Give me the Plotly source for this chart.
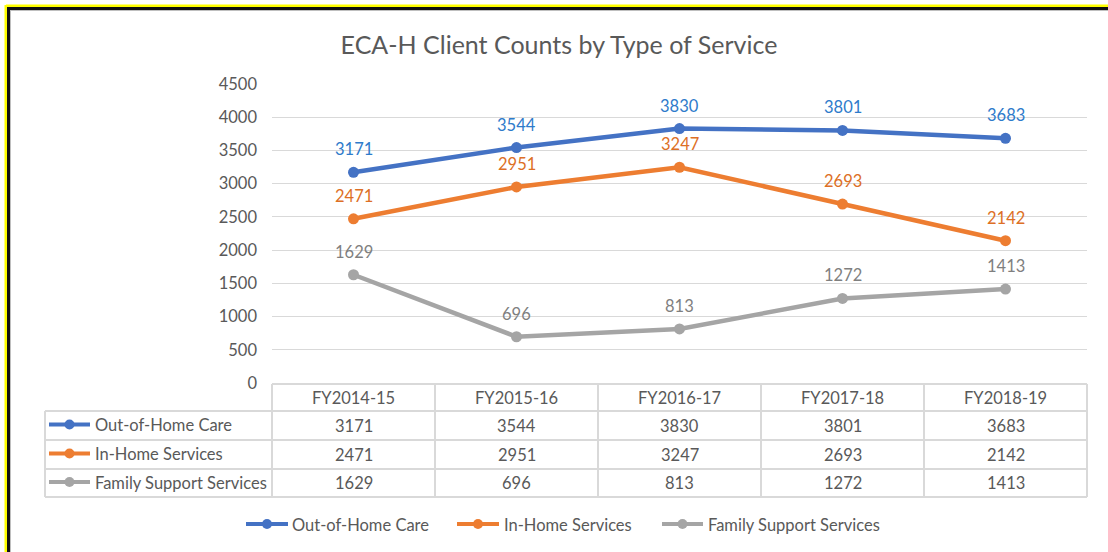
import plotly.graph_objects as go

categories = ["FY2014-15", "FY2015-16", "FY2016-17", "FY2017-18", "FY2018-19"]
out_of_home = [3171, 3544, 3830, 3801, 3683]
in_home = [2471, 2951, 3247, 2693, 2142]
family_support = [1629, 696, 813, 1272, 1413]
series_names = ["Out-of-Home Care", "In-Home Services", "Family Support Services"]
y_ticks = [0, 500, 1000, 1500, 2000, 2500, 3000, 3500, 4000, 4500]

series_values = [out_of_home, in_home, family_support]
line_colors = ["#4472C4", "#ED7D31", "#A5A5A5"]
label_colors = ["#2E7BCB", "#DD6F25", "#7F7F7F"]

W, H = 1108, 552
L, R, T, B = 272, 1087, 84, 383  # plot area in pixels
FONT = "Lato, Calibri, Carlito, sans-serif"
FS = 16.5
GRID = "#D9D9D9"
TXT = "#595959"


def px_x(px):
    return (px - L) / (R - L)


def px_y(py):
    return (B - py) / (B - T)


fig = go.Figure()
annotations = []
for name, vals, lc, tc in zip(series_names, series_values, line_colors, label_colors):
    fig.add_trace(go.Scatter(
        x=categories, y=vals, name=name, mode="lines+markers",
        line=dict(color=lc, width=4.5), marker=dict(color=lc, size=11),
        cliponaxis=False,
    ))
    for c, v in zip(categories, vals):
        annotations.append(dict(x=c, y=v, xref="x", yref="y", text=str(v), showarrow=False,
                                yshift=23, xanchor="center", yanchor="middle",
                                font=dict(size=FS, color=tc, family=FONT)))

shapes = []

# outer frame
shapes.append(dict(type="line", xref="paper", yref="paper", x0=px_x(6), x1=px_x(W + 2),
                   y0=px_y(6), y1=px_y(6), line=dict(color="#FFFF00", width=3)))
shapes.append(dict(type="line", xref="paper", yref="paper", x0=px_x(6), x1=px_x(6),
                   y0=px_y(5), y1=px_y(H + 2), line=dict(color="#FFFF00", width=3)))
shapes.append(dict(type="line", xref="paper", yref="paper", x0=px_x(8.5), x1=px_x(W + 2),
                   y0=px_y(8.5), y1=px_y(8.5), line=dict(color="#111111", width=3)))
shapes.append(dict(type="line", xref="paper", yref="paper", x0=px_x(8.5), x1=px_x(8.5),
                   y0=px_y(7), y1=px_y(H + 2), line=dict(color="#111111", width=3)))
shapes.append(dict(type="line", xref="paper", yref="paper", x0=px_x(10.5), x1=px_x(W + 2),
                   y0=px_y(10.5), y1=px_y(10.5), line=dict(color="#BFBFBF", width=1)))
shapes.append(dict(type="line", xref="paper", yref="paper", x0=px_x(10.5), x1=px_x(10.5),
                   y0=px_y(10), y1=px_y(H + 2), line=dict(color="#BFBFBF", width=1)))

# data table grid
tbl_left = 45
hdr_top, row_tops, tbl_bottom = 384, [411, 440, 469], 497
lw = 2
shapes.append(dict(type="line", xref="paper", yref="paper", x0=0, x1=1,
                   y0=px_y(hdr_top), y1=px_y(hdr_top), line=dict(color=GRID, width=lw)))
for rt in row_tops + [tbl_bottom]:
    shapes.append(dict(type="line", xref="paper", yref="paper", x0=px_x(tbl_left), x1=1,
                       y0=px_y(rt), y1=px_y(rt), line=dict(color=GRID, width=lw)))
for k in range(len(categories) + 1):
    xv = k / len(categories)
    shapes.append(dict(type="line", xref="paper", yref="paper", x0=xv, x1=xv,
                       y0=px_y(hdr_top), y1=px_y(tbl_bottom), line=dict(color=GRID, width=lw)))
shapes.append(dict(type="line", xref="paper", yref="paper", x0=px_x(tbl_left), x1=px_x(tbl_left),
                   y0=px_y(row_tops[0]), y1=px_y(tbl_bottom), line=dict(color=GRID, width=lw)))


def legend_key(x0, x1, yc, color, text_x, text):
    shapes.append(dict(type="line", xref="paper", yref="paper", x0=px_x(x0), x1=px_x(x1),
                       y0=px_y(yc), y1=px_y(yc), line=dict(color=color, width=4)))
    mx = (x0 + x1) / 2
    shapes.append(dict(type="circle", xref="paper", yref="paper", x0=px_x(mx - 5), x1=px_x(mx + 5),
                       y0=px_y(yc - 5), y1=px_y(yc + 5), fillcolor=color, line=dict(color=color, width=0)))
    annotations.append(dict(x=px_x(text_x), y=px_y(yc + 0.5), xref="paper", yref="paper", text=text,
                            showarrow=False, font=dict(size=FS, color=TXT, family=FONT),
                            xanchor="left", yanchor="middle"))


for c in categories:
    annotations.append(dict(x=c, y=px_y(397.5), xref="x", yref="paper", text=c, showarrow=False,
                            font=dict(size=FS, color=TXT, family=FONT), xanchor="center", yanchor="middle"))
row_centers = [425.5, 454.5, 483]
for name, vals, lc, yc in zip(series_names, series_values, line_colors, row_centers):
    legend_key(49, 90, yc - 1, lc, 93, name)
    for c, v in zip(categories, vals):
        annotations.append(dict(x=c, y=px_y(yc), xref="x", yref="paper", text=str(v), showarrow=False,
                                font=dict(size=FS, color=TXT, family=FONT), xanchor="center", yanchor="middle"))

# bottom legend
legend_pos = [(246, 288, 290), (457, 499, 502), (662, 703, 706)]
for name, lc, (a, b, tx) in zip(series_names, line_colors, legend_pos):
    legend_key(a, b, 524, lc, tx, name)

fig.update_layout(
    width=W, height=H,
    margin=dict(l=L, r=W - R, t=T, b=H - B),
    paper_bgcolor="white", plot_bgcolor="white",
    title=dict(text="ECA-H Client Counts by Type of Service", x=559 / W, xanchor="center",
               y=1 - 45 / H, yanchor="middle", font=dict(size=25, color=TXT, family=FONT)),
    xaxis=dict(type="category", range=[-0.5, 4.5], showticklabels=False, showgrid=False,
               zeroline=False, ticks="", fixedrange=True),
    yaxis=dict(range=[0, 4500], tickvals=y_ticks, showgrid=True, gridcolor=GRID, gridwidth=1,
               zeroline=False, ticks="", tickfont=dict(size=FS, color=TXT, family=FONT),
               ticklabelstandoff=14),
    showlegend=False,
    shapes=shapes, annotations=annotations,
)

fig.write_html("out.html", config={"displayModeBar": False},
               post_script="document.body.style.margin='0';")
